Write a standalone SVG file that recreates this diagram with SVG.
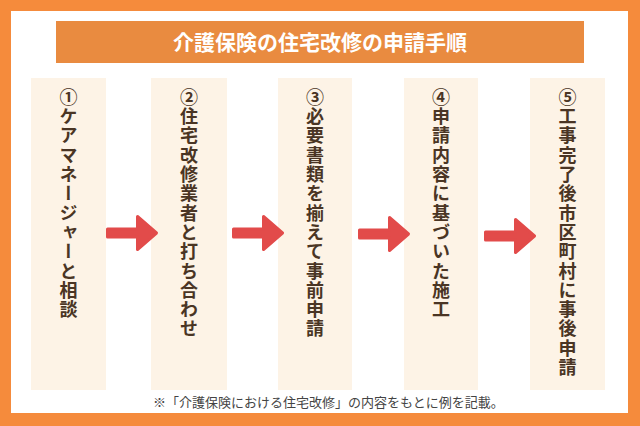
<svg xmlns="http://www.w3.org/2000/svg" width="640" height="426" viewBox="0 0 640 426">
<style>
.col{fill:#FDF3E6}
.vt{font-family:"Noto Sans CJK JP","Noto Sans CJK SC",sans-serif;font-size:18px;font-weight:700;fill:#4A3524;writing-mode:vertical-rl;letter-spacing:1.3px}
.title{font-family:"Noto Sans CJK JP","Noto Sans CJK SC",sans-serif;font-size:21px;font-weight:700;fill:#FFFFFF}
.note{font-family:"Noto Sans CJK JP","Noto Sans CJK SC",sans-serif;font-size:13px;fill:#444444}
.arrow{fill:#E24B4A;stroke:#E24B4A;stroke-width:3;stroke-linejoin:round}
</style>
<defs>
<path id="arr" d="M1.5,-4 H31.5 V-16.5 L50.5,0 L31.5,16.5 V4 H1.5 Z"/>
</defs>
<rect x="0" y="0" width="640" height="426" fill="#F58B3C"/>
<rect x="11" y="11" width="617" height="402" fill="#FFFFFF"/>
<g id="title">
<rect x="56" y="21" width="528" height="42" fill="#E98B40"/>
<text class="title" x="320" y="50" text-anchor="middle">介護保険の住宅改修の申請手順</text>
</g>
<g id="step1">
<rect class="col" x="31" y="78" width="75" height="312"/>
<text class="vt" x="68.5" y="88">①ケアマネージャーと相談</text>
</g>
<g id="step2">
<rect class="col" x="151" y="78" width="76" height="312"/>
<text class="vt" x="189" y="88">②住宅改修業者と打ち合わせ</text>
</g>
<g id="step3">
<rect class="col" x="278" y="78" width="74" height="312"/>
<text class="vt" x="315" y="88">③必要書類を揃えて事前申請</text>
</g>
<g id="step4">
<rect class="col" x="404" y="78" width="74" height="312"/>
<text class="vt" x="441" y="88">④申請内容に基づいた施工</text>
</g>
<g id="step5">
<rect class="col" x="530" y="78" width="75" height="312"/>
<text class="vt" x="567.5" y="88">⑤工事完了後市区町村に事後申請</text>
</g>
<g id="connectors">
<use href="#arr" class="arrow" transform="translate(106,233)"/>
<use href="#arr" class="arrow" transform="translate(232,233)"/>
<use href="#arr" class="arrow" transform="translate(358,234)"/>
<use href="#arr" class="arrow" transform="translate(484,236)"/>
</g>
<text class="note" x="153" y="407">※「介護保険における住宅改修」の内容をもとに例を記載。</text>
</svg>
